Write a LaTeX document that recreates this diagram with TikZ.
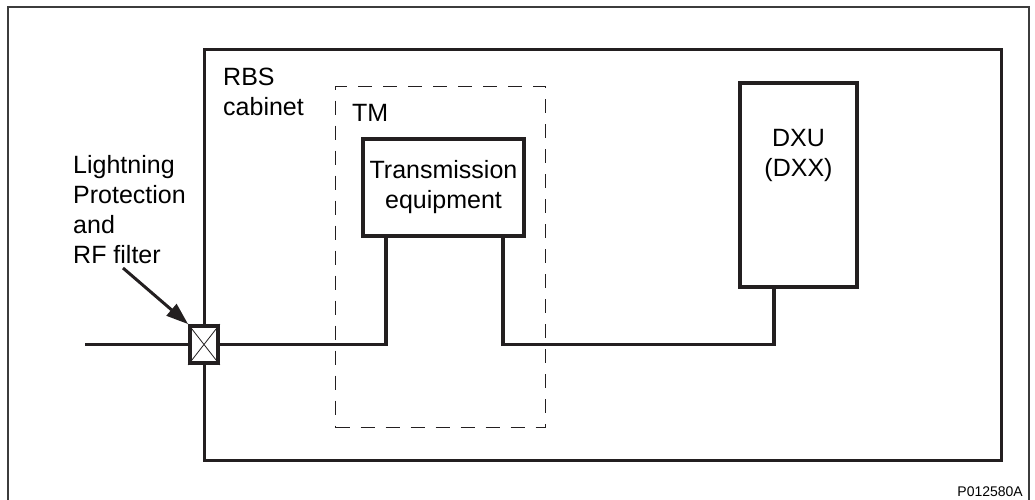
\documentclass[tikz,border=0pt]{standalone}
\usepackage{fontspec}
\setmainfont{Liberation Sans}
\usetikzlibrary{arrows.meta, positioning, calc}
\definecolor{mline}{HTML}{231F20}
\definecolor{mframe}{HTML}{3C3C3C}
\tikzset{
  lbl/.style={font=\fontsize{25}{30}\selectfont, inner sep=0pt, align=left},
  eqbox/.style={draw=mline, line width=3.8pt, fill=white, inner sep=0pt},
  cabbox/.style={draw=mline, line width=2.5pt, inner sep=0pt},
  tmbox/.style={draw=mline, line width=1.2pt, dash pattern=on 14pt off 11pt, inner sep=0pt},
  filterbox/.style={draw=mline, line width=3.8pt, fill=white, inner sep=0pt},
  wire/.style={draw=mline, line width=3.8pt},
  pointer/.style={-{Triangle[length=22pt, width=15pt]}, draw=mline, line width=3pt},
}

\begin{document}
\begin{tikzpicture}[x=1pt, y=-1pt]

  \clip (0,0) rectangle (1035,499);
  %% Outer frame
  \draw[mframe, line width=2pt] (8,7) rectangle (1029,520);

  %% RBS cabinet
  \node[cabbox, minimum width=797pt, minimum height=411pt, anchor=north west] (cab) at (203,48) {};
  \node[lbl, anchor=north west] (cablbl) at (223,68) {RBS\\cabinet};

  %% TM (dashed) with transmission equipment
  \node[tmbox, minimum width=210pt, minimum height=341pt, anchor=north west] (tm) at (335,86) {};
  \node[lbl, anchor=north west] (tmlbl) at (352,104) {TM};
  \node[eqbox, lbl, align=center, minimum width=161pt, minimum height=97pt] (trans) at (443.5,187.5) {Transmission\\equipment};

  %% DXU
  \node[eqbox, minimum width=117pt, minimum height=204pt] (dxu) at (798.5,185) {};
  \node[lbl, align=center, below=48pt of dxu.north] (dxulbl) {DXU\\(DXX)};

  %% Lightning protection and RF filter
  \node[filterbox, minimum width=28pt, minimum height=37pt] (filt) at (204,344.5) {};
  \draw[mline, line width=0.8pt] (filt.north west) -- (filt.south east)
                                 (filt.north east) -- (filt.south west);
  \node[lbl, anchor=north west] (filtlbl) at (73,155) {Lightning\\Protection\\and\\RF filter};
  \coordinate (ptr) at (123,268);
  \draw[pointer] (ptr) -- (filt.north west);

  %% Lines
  \coordinate (feed) at (85,344.5);
  \coordinate (tin) at ($(trans.south west)+(25,0)$);
  \coordinate (tout) at ($(trans.south east)+(-23,0)$);
  \coordinate (dxin) at ($(dxu.south)+(-24.5,0)$);
  \draw[wire] (feed) -- (filt.west);
  \draw[wire] (filt.east) -| (tin);
  \draw[wire] (tout) -- (tout |- filt.east) -| (dxin);

  \node[font=\fontsize{14}{16}\selectfont, inner sep=0pt, anchor=base east] (figid) at (1023,496) {P012580A};

\end{tikzpicture}
\end{document}
